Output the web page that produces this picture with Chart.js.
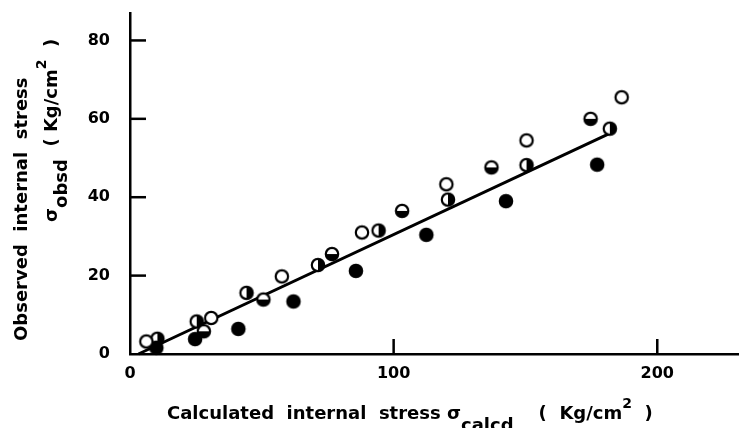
<!DOCTYPE html>
<html>
<head>
<meta charset="utf-8">
<script src="https://cdn.jsdelivr.net/npm/chart.js@4/dist/chart.umd.min.js"></script>
<style>
  body { margin: 0; background: #fff; }
  #wrap { width: 739px; height: 428px; }
</style>
</head>
<body>
<div id="wrap"><canvas id="stress-chart" width="739" height="428"></canvas></div>
<script>
// values (Kg/cm2)
const openX = [6.2, 30.8, 57.6, 88.0, 120.0, 150.4, 186.5];
const openY = [3.2, 9.2, 19.8, 31.0, 43.3, 54.5, 65.5];

const filledX = [10.0, 24.7, 41.1, 62.0, 85.7, 112.4, 142.6, 177.2];
const filledY = [1.6, 3.8, 6.4, 13.4, 21.2, 30.4, 39.0, 48.3];

const lowerHalfX = [28.0, 50.6, 76.6, 103.2, 137.1, 174.7];
const lowerHalfY = [5.8, 13.9, 25.5, 36.5, 47.6, 60.0];

const rightHalfX = [10.4, 25.3, 44.2, 71.3, 94.3, 120.6, 150.4, 182.0];
const rightHalfY = [3.9, 8.3, 15.6, 22.7, 31.5, 39.4, 48.2, 57.5];

const fitX = [3.2, 182.0];
const fitY = [0, 56.3];

const xTicks = [0, 100, 200];
const yTicks = [0, 20, 40, 60, 80];

const toPoints = (xs, ys) => xs.map((x, i) => ({ x: x, y: ys[i] }));

// little canvases for the four marker kinds
function marker(kind) {
  const c = document.createElement('canvas');
  c.width = 18; c.height = 18;
  const g = c.getContext('2d');
  const r = 6.2;
  g.beginPath(); g.arc(9, 9, r, 0, Math.PI * 2);
  g.fillStyle = kind === 'filled' ? '#000' : '#fff';
  g.fill();
  g.fillStyle = '#000';
  if (kind === 'lower') {
    g.beginPath(); g.moveTo(9 - r, 9); g.arc(9, 9, r, 0, Math.PI); g.closePath(); g.fill();
  }
  if (kind === 'right') {
    g.beginPath(); g.moveTo(9, 9 - r); g.arc(9, 9, r, -Math.PI / 2, Math.PI / 2); g.closePath(); g.fill();
  }
  g.lineWidth = 2.2;
  g.strokeStyle = '#000';
  g.beginPath(); g.arc(9, 9, r, 0, Math.PI * 2); g.stroke();
  return c;
}

const FONT = '"DejaVu Sans", sans-serif';

// draws a run of text pieces, some shifted as sub/superscripts
function drawRun(g, parts, size) {
  let x = 0;
  parts.forEach(p => {
    g.font = 'bold ' + (p.small ? Math.round(size * 0.8) : size) + 'px ' + FONT;
    g.fillText(p.t, x, p.dy || 0);
    x += g.measureText(p.t).width;
  });
}

const titles = {
  id: 'titles',
  afterDraw(chart) {
    const g = chart.ctx;
    g.save();
    g.fillStyle = '#000';
    g.textBaseline = 'alphabetic';
    // x title
    g.save();
    g.translate(167, 419);
    drawRun(g, [
      { t: 'Calculated  internal  stress ' },
      { t: 'σ' },
      { t: 'calcd', dy: 12 },
      { t: '    (  Kg/cm' },
      { t: '2', dy: -11, small: true },
      { t: '  )' }
    ], 18);
    g.restore();
    // y title, two lines
    g.save();
    g.translate(27, 341);
    g.rotate(-Math.PI / 2);
    drawRun(g, [{ t: 'Observed  internal  stress' }], 18);
    g.restore();
    g.save();
    g.translate(57, 222);
    g.rotate(-Math.PI / 2);
    drawRun(g, [
      { t: 'σ' },
      { t: 'obsd', dy: 10 },
      { t: '  ( Kg/cm' },
      { t: '2', dy: -11, small: true },
      { t: '  )' }
    ], 18);
    g.restore();
    g.restore();
  }
};

// tick marks pointing into the plot
const innerTicks = {
  id: 'innerTicks',
  afterDraw(chart) {
    const g = chart.ctx;
    const a = chart.chartArea;
    const xs = chart.scales.x, ys = chart.scales.y;
    g.save();
    g.strokeStyle = '#000';
    g.lineWidth = 2.5;
    yTicks.filter(v => v > 0).forEach(v => {
      const py = ys.getPixelForValue(v);
      g.beginPath(); g.moveTo(a.left, py); g.lineTo(a.left + 16, py); g.stroke();
    });
    xTicks.filter(v => v > 0).forEach(v => {
      const px = xs.getPixelForValue(v);
      g.beginPath(); g.moveTo(px, a.bottom); g.lineTo(px, a.bottom - 15); g.stroke();
    });
    g.restore();
  }
};

const ctx = document.getElementById('stress-chart').getContext('2d');

new Chart(ctx, {
  type: 'scatter',
  data: {
    datasets: [
      { data: toPoints(openX, openY), pointStyle: marker('open'), clip: false },
      { data: toPoints(filledX, filledY), pointStyle: marker('filled'), clip: false },
      { data: toPoints(lowerHalfX, lowerHalfY), pointStyle: marker('lower'), clip: false },
      { data: toPoints(rightHalfX, rightHalfY), pointStyle: marker('right'), clip: false },
      {
        data: toPoints(fitX, fitY),
        showLine: true,
        pointRadius: 0,
        borderColor: '#000',
        borderWidth: 3,
        order: 10,
        clip: false
      }
    ]
  },
  options: {
    responsive: false,
    animation: false,
    layout: { autoPadding: false, padding: { top: 13, right: 0, left: 0, bottom: 0 } },
    plugins: {
      legend: { display: false },
      tooltip: { enabled: false }
    },
    scales: {
      x: {
        type: 'linear',
        min: 0,
        max: 231,
        afterFit: s => { s.height = 74; s.paddingLeft = 0; s.paddingRight = 0 },
        afterBuildTicks: s => { s.ticks = xTicks.map(v => ({ value: v })) },
        border: { color: '#000', width: 2.5 },
        grid: { display: false, drawTicks: false },
        ticks: {
          padding: 10,
          color: '#000',
          font: { family: FONT, size: 16, weight: 'bold' }
        }
      },
      y: {
        type: 'linear',
        min: 0,
        max: 87,
        afterFit: s => { s.width = 130; s.paddingTop = 0; s.paddingBottom = 0 },
        afterBuildTicks: s => { s.ticks = yTicks.map(v => ({ value: v })) },
        border: { color: '#000', width: 2.5 },
        grid: { display: false, drawTicks: false },
        ticks: {
          padding: 20,
          color: '#000',
          font: { family: FONT, size: 16, weight: 'bold' }
        }
      }
    }
  },
  plugins: [titles, innerTicks]
});
</script>
</body>
</html>
